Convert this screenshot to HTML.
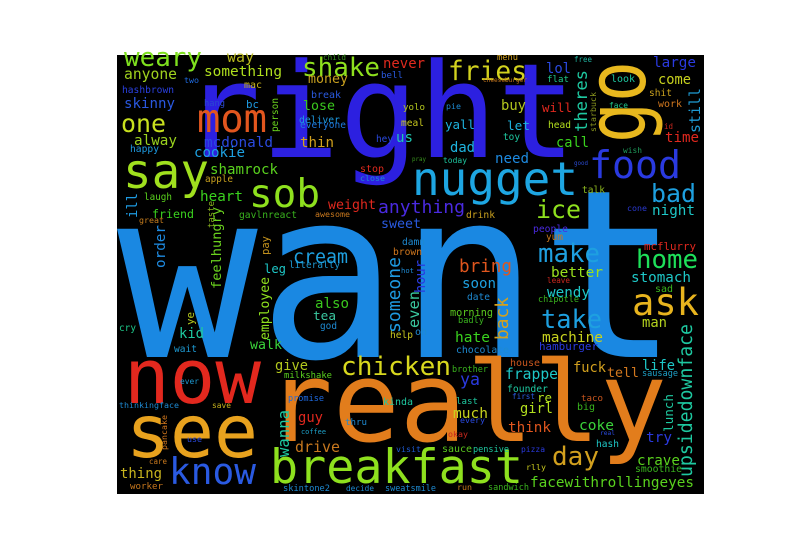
<!DOCTYPE html>
<html>
<head>
<meta charset="utf-8">
<style>
html,body{margin:0;padding:0;background:#fff;}
svg{display:block;}
text{font-family:"DejaVu Sans Mono","Liberation Mono",monospace;}
</style>
</head>
<body>
<svg id="cloud" width="800" height="550" viewBox="0 0 800 550">
  <rect x="117" y="55" width="587" height="439" fill="#000"></rect>
  <g id="words"></g>
</svg>
<script>
// word, left x, baseline y, width along text, color, rotation(0 / -90)
const words = ["want","right","really","now","see","breakfast","know","nugget","food","ask","sob","say","mom","go","one","chicken",
"weary","anyone","way","something","two","mac","hashbrown","skinny","hang","bc","person","alway","mcdonald","happy","cookie","shamrock","apple","laugh","heart","ill","friend","gavlnreact","great","taste","feelhungry","order","pay","leg","literally","cream",
"child","shake","never","bell","fries","money","cheeseburger","menu","break","lose","yolo","pie","deliver","everyone","meal","yall","thin","hey","us","dad","pray","today","need","stop","close","weight","anything","awesome","drink","sweet","damn","brown","bring","someone","hour","hot",
"free","lol","large","flat","look","come","theres","buy","starbuck","shit","will","face","work","still","let","head","id","time","toy","call","wish","good","talk","bad","ice","cone","night","people","yum","mcflurry","make","home","better",
"cry","ye","kid","wait","employee","walk","give","milkshake","ever","thinkingface","save","promise","pancake","use","wanna","guy","coffee","drive","care","thing","worker","skintone2",
"also","tea","god","even","oh","help","soon","date","morning","badly","back","hate","chocolate","brother","ya","kinda","last","much","thru","every","okay","visit","sauce","pensive","decide","sweatsmile","run","sandwich",
"leave","stomach","wendy","sad","chipotle","take","man","machine","hamburger","upsidedownface","house","fuck","tell","life","sausage","frappe","founder","first","re","taco","big","girl","lunch","think","coke","real","try","hash","pizza","day","crave","rlly","smoothie","facewithrollingeyes"];
const xs = [117,182,266,124,126,270,169,412,589,632,249,123,197,645,121,341,
124,124,227,204,184,244,122,124,204,246,278,134,204,130,194,210,205,144,200,137,152,239,139,214,221,165,269,264,289,293,
323,302,383,381,448,308,483,497,311,303,403,446,299,300,401,445,300,376,396,450,412,443,495,360,360,328,378,315,466,381,402,393,459,400,425,401,
574,546,653,547,611,658,587,501,596,649,542,609,658,700,507,548,664,665,503,556,623,574,582,651,536,627,652,533,546,644,538,636,551,
119,194,179,174,269,250,275,284,180,119,212,288,167,187,289,298,301,295,149,120,130,283,
315,313,320,419,415,390,462,467,450,458,508,455,456,452,460,383,456,453,345,460,448,396,442,473,346,385,457,488,
547,631,547,655,538,541,642,542,539,692,510,573,607,642,642,505,507,512,537,581,577,520,673,508,579,600,646,596,521,552,637,526,635,530];
const ys = [357,157,441,403,457,483,484,195,178,315,207,188,132,143,132,375,
66,79,62,76,83,88,93,108,106,108,132,145,147,152,157,174,182,200,201,218,218,218,223,228,289,268,255,273,268,263,
60,76,68,78,80,83,82,60,98,110,110,109,123,128,126,129,147,142,142,152,161,163,163,172,181,209,213,217,218,228,245,255,272,333,293,273,
62,73,67,82,82,84,132,110,132,96,112,108,107,133,130,128,129,142,140,147,153,165,193,202,218,211,215,232,240,250,262,268,277,
331,325,338,352,340,349,370,378,384,408,408,401,450,442,457,422,434,452,464,478,489,491,
308,320,329,328,335,338,288,300,316,323,340,342,353,372,385,405,404,418,425,423,437,452,452,452,491,491,490,490,
283,282,297,292,302,328,327,342,350,477,366,372,377,370,376,379,392,399,402,401,410,413,432,432,430,435,442,447,452,465,465,470,472,487];
const widths = [563,394,401,137,132,253,87,166,92,67,71,86,70,82,45,110,
78,53,27,78,15,18,52,51,21,13,34,43,69,29,51,68,28,28,43,25,42,58,25,27,82,43,19,22,51,55,
23,78,42,22,79,40,44,21,30,32,22,15,41,46,23,30,34,17,17,25,14,24,34,24,25,48,87,35,29,40,23,29,53,76,33,13,
18,25,43,22,24,33,62,25,40,23,30,19,24,45,23,23,9,34,17,33,19,14,23,45,45,20,43,35,17,52,62,62,52,
17,13,25,23,63,32,33,48,19,60,19,36,35,15,47,25,25,45,18,42,33,47,
34,23,17,37,12,23,34,23,43,26,43,35,53,36,20,30,22,35,22,25,20,25,30,36,28,51,15,41,
23,60,43,18,41,61,25,61,59,153,30,33,32,33,36,53,41,23,15,22,18,33,38,43,35,15,26,23,24,47,43,20,47,164];
const colors = ["#1a88e2","#2c20e0","#e27d1c","#e2281e","#e8a21e","#8ee01e","#2a5ae2","#1ea6e2","#2a3ae0","#e8b41e","#8ee01e","#a0e01e","#e2561e","#e8b81e","#c8e01e","#d8d81e",
"#7ee01e","#a0d21e","#b8b81e","#b0e01e","#1e6ae0","#c8b41e","#2a40e0","#2a58e0","#2a4ad0","#1e9ae0","#6ad21e","#9ad21e","#2a4ae0","#1e9ae0","#1ea0e0","#5ad21e","#c8a01e","#5ad21e","#3ad21e","#1e9ae0","#3ad21e","#3ab41e","#c87e1e","#8ab41e","#6ad21e","#1e8ae0","#c8961e","#1ec8c8","#1e9ad2","#1ea0e0",
"#3a961e","#8ee01e","#e02a1e","#2a5ae0","#d2d21e","#c8a01e","#c8781e","#d2a01e","#2a5ae0","#3ac81e","#b4c81e","#1e8ad2","#1e9ae0","#1e7ae0","#c8c81e","#1eb4e0","#d2a01e","#2a4ae0","#1ec8b4","#1eb4e0","#3a961e","#1ec8a0","#1e8ae0","#e02a1e","#1e8ad2","#e0281e","#4a2ae0","#c8781e","#c8a01e","#2a5ae0","#1e8ad2","#d2781e","#e0561e","#1e9ae0","#2a3ae0","#1e8ad2",
"#1eb4a0","#2a4ae0","#2a3ae0","#1ec88a","#1ec8a0","#c8d21e","#1ec8a0","#b4c81e","#8a961e","#c8a01e","#e0281e","#1ec88a","#d2781e","#1e9ad2","#1eb4e0","#b4e01e","#c8281e","#e0281e","#1ec8a0","#3ad21e","#1e9a5a","#2a4ad0","#8ab41e","#1ea0e0","#8ee01e","#2a3ad2","#1ec8c8","#4a2ae0","#c8781e","#e0281e","#1ea0e0","#1ee05a","#9ae01e",
"#1ec88a","#b4c81e","#1ec8a0","#1e9ad2","#8ee01e","#3ad23a","#b4c81e","#5ad21e","#1e9ad2","#1e8ad2","#c8b41e","#1e6ae0","#d2781e","#2a4ae0","#1ec8a0","#e0281e","#1ea0c8","#c8781e","#c8781e","#c8b41e","#c8781e","#1e8ad2",
"#3ac81e","#3ac8a0","#1e8ad2","#3ac8a0","#1e8ad2","#c8c81e","#1ea0e0","#1e8ad2","#5ac81e","#3ab41e","#d2a01e","#3ad21e","#1e8ad2","#3ab41e","#2a3ae0","#1ec8a0","#1ec8a0","#c8d21e","#1e8ad2","#2a4ae0","#c8281e","#1e5ad2","#5ac81e","#1ec8a0","#1e8ad2","#1e8ad2","#c8781e","#3ab41e",
"#c8281e","#1ec8c8","#1ec8c8","#3ab41e","#3ab41e","#1ea0e0","#b4d21e","#c8d21e","#2a3ae0","#1ec8a0","#c8561e","#d2a01e","#d2781e","#1ec8c8","#1ea0c8","#1ec8c8","#1ec8a0","#2a5ae0","#b4e01e","#c8561e","#3ab41e","#b4e01e","#1ec8a0","#e0561e","#3ad23a","#2a4ae0","#2a3ae0","#1ec8c8","#2a3ae0","#d2a01e","#5ad21e","#c8c81e","#3ab41e","#5ad21e"];
const vertical = ["go","person","ill","taste","feelhungry","order","pay","someone","hour","theres","starbuck","still","ye","employee","pancake","wanna","even","back","upsidedownface","lunch"];
const sizeOverrideWords = ["go"];
const sizeOverrideValues = [82];

const g = document.getElementById('words');
const NS = 'http://www.w3.org/2000/svg';
for (let i = 0; i < words.length; i++) {
  const t = document.createElementNS(NS, 'text');
  const w = words[i];
  const len = widths[i];
  let fs = len / (w.length * 0.6);
  const oi = sizeOverrideWords.indexOf(w);
  if (oi >= 0) fs = sizeOverrideValues[oi];
  t.setAttribute('x', xs[i]);
  t.setAttribute('y', ys[i]);
  t.setAttribute('font-size', fs.toFixed(1));
  t.setAttribute('fill', colors[i]);
  t.setAttribute('textLength', len);
  t.setAttribute('lengthAdjust', 'spacingAndGlyphs');
  if (vertical.includes(w)) {
    t.setAttribute('transform', 'rotate(-90 ' + xs[i] + ' ' + ys[i] + ')');
  }
  t.textContent = w;
  
  
  g.appendChild(t);
}
</script>
</body>
</html>
